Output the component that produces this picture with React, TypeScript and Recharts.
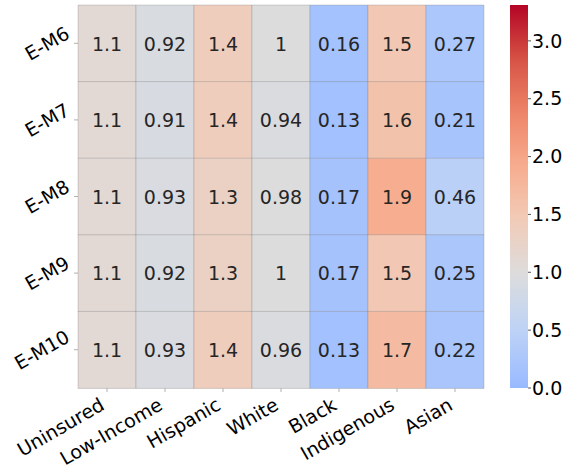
import React from "react"
import { BarChart, Bar, Cell, XAxis, YAxis, LabelList } from "recharts"

const rows = ["E-M6", "E-M7", "E-M8", "E-M9", "E-M10"]
const groups = ["Uninsured", "Low-Income", "Hispanic", "White", "Black", "Indigenous", "Asian"]

const em6 = [1.1, 0.92, 1.4, 1.0, 0.16, 1.5, 0.27]
const em7 = [1.1, 0.91, 1.4, 0.94, 0.13, 1.6, 0.21]
const em8 = [1.1, 0.93, 1.3, 0.98, 0.17, 1.9, 0.46]
const em9 = [1.1, 0.92, 1.3, 1.0, 0.17, 1.5, 0.25]
const em10 = [1.1, 0.93, 1.4, 0.96, 0.13, 1.7, 0.22]
const values = [em6, em7, em8, em9, em10]

const colorbarTicks = [0, 0.5, 1.0, 1.5, 2.0, 2.5, 3.0]
const VMIN = 0
const VMAX = 3.31
const CENTER = 1

const FONT = "DejaVu Sans"
const FS = 19

// matplotlib coolwarm, 11 samples
const COOLWARM = [
  "#3b4cc0", "#5977e3", "#7b9ff9", "#9ebeff", "#c0d4f5", "#dddcdc",
  "#f2cbb7", "#f7ac8e", "#ee8468", "#d65244", "#b40426",
]

function hex(c: string) {
  return [1, 3, 5].map((i) => parseInt(c.slice(i, i + 2), 16))
}

function coolwarm(t: number): string {
  const p = Math.min(Math.max(t, 0), 1) * 10
  const i = Math.min(Math.floor(p), 9)
  const f = p - i
  const a = hex(COOLWARM[i])
  const b = hex(COOLWARM[i + 1])
  const c = a.map((v, k) => Math.round(v + (b[k] - v) * f))
  return `rgb(${c[0]},${c[1]},${c[2]})`
}

// seaborn-style centered colormap
function cellColor(v: number): string {
  const vr = Math.max(VMAX - CENTER, CENTER - VMIN)
  return coolwarm((v - (CENTER - vr)) / (2 * vr))
}

function fmt(v: number): string {
  return String(Number(v.toPrecision(2)))
}

// rough DejaVu Sans advance widths (em)
const CW: Record<string, number> = {
  A: 0.684, B: 0.686, E: 0.632, H: 0.752, I: 0.295, L: 0.557, M: 0.863, U: 0.732, W: 0.989,
  a: 0.613, c: 0.55, d: 0.635, e: 0.615, g: 0.635, h: 0.634, i: 0.278, k: 0.579, l: 0.278,
  m: 0.974, n: 0.634, o: 0.612, p: 0.635, r: 0.411, s: 0.521, t: 0.392, u: 0.634, w: 0.818,
  "-": 0.361, ".": 0.318,
}
function textWidth(s: string, fs: number) {
  return s.split("").reduce((acc, ch) => acc + (CW[ch] ?? 0.636), 0) * fs
}

const ROT = (30 * Math.PI) / 180

function XTick(props: any) {
  const { x, y, payload } = props
  const label = groups[Math.floor(payload.value)]
  const w = textWidth(label, FS)
  const h = FS * 1.164
  const bw = w * Math.cos(ROT) + h * Math.sin(ROT)
  const bh = w * Math.sin(ROT) + h * Math.cos(ROT)
  const cx = x - bw / 2 + 1
  const cy = y + bh / 2 - 1
  return (
    <text
      x={cx}
      y={cy}
      textAnchor="middle"
      dominantBaseline="central"
      fontFamily={FONT}
      fontSize={FS}
      fill="#000"
      transform={`rotate(-30 ${cx} ${cy})`}
    >
      {label}
    </text>
  )
}

function YTick(props: any) {
  const { x, y, payload } = props
  const label = String(payload.value)
  const w = textWidth(label, FS)
  const h = FS * 1.164
  const bw = w * Math.cos(ROT) + h * Math.sin(ROT)
  const cx = x - bw / 2 + 1
  const cy = y
  return (
    <text
      x={cx}
      y={cy}
      textAnchor="middle"
      dominantBaseline="central"
      fontFamily={FONT}
      fontSize={FS}
      fill="#000"
      transform={`rotate(-30 ${cx} ${cy})`}
    >
      {label}
    </text>
  )
}

function CellLabel(props: any) {
  const vb = props.viewBox ?? props
  const x = (vb.x ?? props.x) + (vb.width ?? props.width) / 2
  const y = (vb.y ?? props.y) + (vb.height ?? props.height) / 2
  return (
    <text
      x={x}
      y={y}
      textAnchor="middle"
      dominantBaseline="central"
      fontFamily={FONT}
      fontSize={FS}
      fill="#262626"
    >
      {fmt(Number(props.value))}
    </text>
  )
}

const tableData = rows.map((row, i) => {
  const d: Record<string, string | number> = { row }
  groups.forEach((_, j) => {
    d[`c${j}`] = 1
    d[`v${j}`] = values[i][j]
  })
  return d
})

const colorbarData = [{ k: "cb", v: VMAX }]
const gradStops = Array.from({ length: 21 }, (_, i) => i / 20)

export default function App() {
  return (
    <div style={{ position: "absolute", left: 0, top: 0, width: 569, height: 465, background: "#fff", fontFamily: FONT }}>
      <div style={{ position: "absolute", left: 0, top: 0 }}>
        <BarChart
          width={569}
          height={465}
          data={tableData}
          layout="vertical"
          barCategoryGap={0}
          margin={{ top: 5, right: 85, bottom: 7, left: 0 }}
        >
          <XAxis
            type="number"
            domain={[0, groups.length]}
            ticks={groups.map((_, j) => j + 0.5)}
            interval={0}
            axisLine={false}
            tickLine={{ stroke: "#b0b0b0" }}
            tickSize={4}
            height={70}
            tick={<XTick />}
          />
          <YAxis
            type="category"
            dataKey="row"
            width={78}
            axisLine={false}
            tickLine={{ stroke: "#b0b0b0" }}
            tickSize={4}
            interval={0}
            tick={<YTick />}
          />
          {groups.map((g, j) => (
            <Bar
              key={g}
              dataKey={`c${j}`}
              stackId="a"
              isAnimationActive={false}
              stroke="#808080"
              strokeOpacity={0.5}
              strokeWidth={0.6}
            >
              {rows.map((r, i) => (
                <Cell key={r} fill={cellColor(values[i][j])} />
              ))}
              <LabelList dataKey={`v${j}`} content={<CellLabel />} />
            </Bar>
          ))}
        </BarChart>
      </div>
      <div style={{ position: "absolute", left: 510, top: 0 }}>
        <BarChart
          width={59}
          height={465}
          data={colorbarData}
          barCategoryGap={0}
          margin={{ top: 5, right: 0, bottom: 77, left: 0 }}
        >
          <defs>
            <linearGradient id="cbGrad" x1="0" y1="1" x2="0" y2="0">
              {gradStops.map((t) => (
                <stop key={t} offset={`${t * 100}%`} stopColor={cellColor(VMIN + (VMAX - VMIN) * t)} />
              ))}
            </linearGradient>
          </defs>
          <XAxis dataKey="k" hide />
          <YAxis
            orientation="right"
            type="number"
            domain={[VMIN, VMAX]}
            ticks={colorbarTicks}
            interval={0}
            width={41}
            axisLine={false}
            tickLine={{ stroke: "#555" }}
            tickSize={3}
            tickMargin={1}
            tickFormatter={(v: number) => v.toFixed(1)}
            tick={{ fontFamily: FONT, fontSize: FS, fill: "#000" }}
          />
          <Bar dataKey="v" fill="url(#cbGrad)" isAnimationActive={false} />
        </BarChart>
      </div>
    </div>
  )
}
